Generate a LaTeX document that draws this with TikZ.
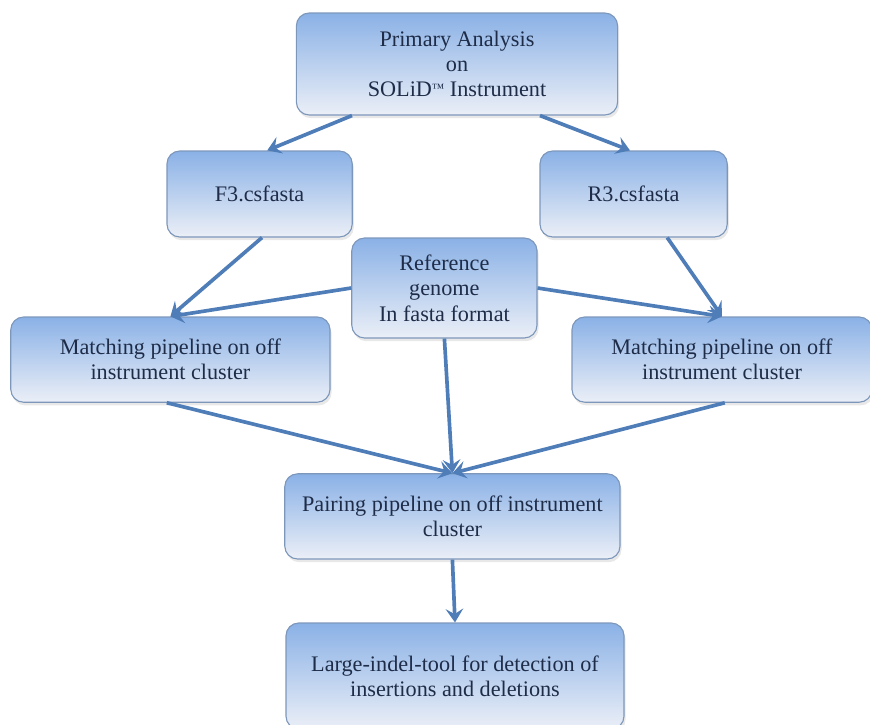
\documentclass[tikz,border=0pt]{standalone}
\usepackage{fontspec}
\setmainfont{Liberation Serif}
\usepackage{xcolor}
\usepackage{tikz}
\usetikzlibrary{arrows.meta,shadows}
\definecolor{boxTop}{HTML}{8AB1E6}
\definecolor{boxMid}{HTML}{B7CBEA}
\definecolor{boxBot}{HTML}{EBEFF7}
\definecolor{boxLine}{HTML}{7D97BB}
\definecolor{flowBlue}{HTML}{4F7DB8}
\definecolor{textNavy}{HTML}{1E2C48}

\begin{document}
\begin{tikzpicture}[
    font=\fontsize{15.8}{18}\selectfont,
    stepbox/.style={rounded corners=0.32cm, draw=boxLine, line width=0.8pt,
        top color=boxTop, middle color=boxMid, bottom color=boxBot,
        align=center, text=textNavy,
        drop shadow={opacity=0.18, shadow xshift=0.4mm, shadow yshift=-0.8mm}},
    arr/.style={-{Stealth[length=3.4mm,width=4.4mm,inset=1.3mm]}, line width=2.6pt, flowBlue}
]
\useasboundingbox (0,0) rectangle (21.75,-18.125);

% Instrument side.
\node[stepbox, minimum width=8.03cm, minimum height=2.55cm] (prim) at (11.425,-1.6) {Primary Analysis\\on\\SOLiD\raisebox{0.45ex}{\fontsize{9}{9}\selectfont ™} Instrument};
\node[stepbox, minimum width=4.63cm, minimum height=2.15cm] (f3) at (6.49,-4.85) {F3.csfasta};
\node[stepbox, minimum width=4.68cm, minimum height=2.15cm] (r3) at (15.84,-4.85) {R3.csfasta};
\node[stepbox, minimum width=4.63cm, minimum height=2.5cm] (ref) at (11.11,-7.2) {Reference\\genome\\In fasta format};

% Off instrument cluster.
\node[stepbox, minimum width=7.98cm, minimum height=2.13cm] (ml) at (4.26,-8.99) {Matching pipeline on off\\instrument cluster};
\node[stepbox, minimum width=7.5cm, minimum height=2.13cm] (mr) at (18.05,-8.99) {Matching pipeline on off\\instrument cluster};
\node[stepbox, minimum width=8.38cm, minimum height=2.13cm] (pair) at (11.31,-12.91) {Pairing pipeline on off instrument\\cluster};
\node[stepbox, minimum width=8.45cm, minimum height=2.65cm] (large) at (11.375,-16.9) {Large-indel-tool for detection of\\insertions and deletions};

% Flow.
\draw[arr] ([xshift=-2.625cm]prim.south) -- ([xshift=0.19cm]f3.north);
\draw[arr] ([xshift=2.075cm]prim.south) -- ([xshift=-0.09cm]r3.north);
\draw[arr] ([xshift=0.06cm]f3.south) -- (ml.north);
\draw[arr] ([xshift=0.84cm]r3.south) -- (mr.north);
\draw[arr] (ref.west) -- (ml.north);
\draw[arr] (ref.east) -- (mr.north);
\draw[arr] (ref.south) -- (pair.north);
\draw[arr] ([xshift=-0.09cm]ml.south) -- (pair.north);
\draw[arr] ([xshift=0.07cm]mr.south) -- (pair.north);
\draw[arr] (pair.south) -- (large.north);
\end{tikzpicture}
\end{document}
